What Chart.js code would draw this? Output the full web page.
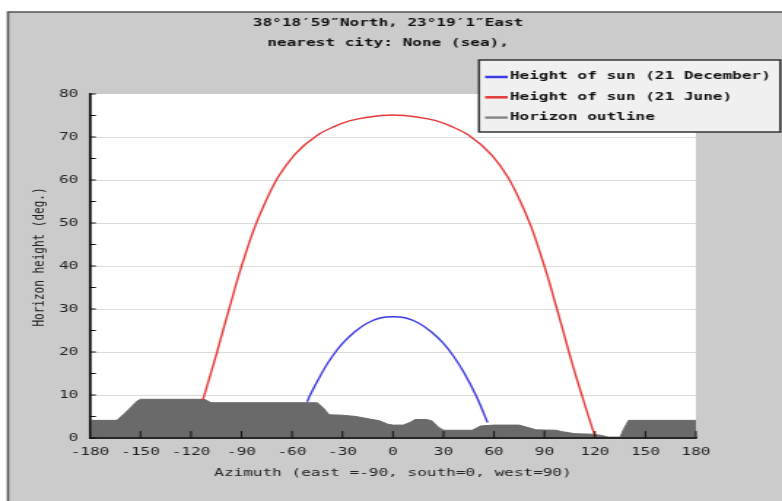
<!DOCTYPE html>
<html><head><meta charset="utf-8">
<script src="https://cdn.jsdelivr.net/npm/chart.js@4.4.1/dist/chart.umd.min.js"></script>
<style>
html,body{margin:0;padding:0;background:#fff;overflow:hidden;width:782px;height:501px}
#wrap{position:absolute;left:0;top:0;width:536px;height:501px;transform:scaleX(1.459);transform-origin:0 0}
</style></head><body>
<div id="wrap"><canvas id="c"></canvas></div>
<script>
const titleLines = ['38°18′59″North, 23°19′1″East', 'nearest city: None (sea),'];
const xAxisTitle = 'Azimuth (east =-90, south=0, west=90)';
const yAxisTitle = 'Horizon height (deg.)';
const seriesLabels = ['Height of sun (21 December)', 'Height of sun (21 June)', 'Horizon outline'];
const xTicks = [-180, -150, -120, -90, -60, -30, 0, 30, 60, 90, 120, 150, 180];
const yTicks = [0, 10, 20, 30, 40, 50, 60, 70, 80];

const decAzimuth = [-51, -49.7, -42.2, -36.2, -29.7, -22.7, -15.4, -7.7, 0, 7.7, 15.4, 22.7, 29.7, 36.2, 42.2, 49.7, 53.1, 56.2];
const decHeight  = [8.4, 9.6, 15.2, 18.9, 22.1, 24.7, 26.7, 27.9, 28.2, 27.9, 26.7, 24.7, 22.1, 18.9, 15.2, 9.6, 6.5, 3.6];

const junAzimuth = [-113, -108.8, -104.5, -100.5, -96.3, -92, -87.3, -82.1, -75.8, -68.5, -58.7, -45, -35, -25.4, -15, 0, 15, 25.4, 35, 45, 58.7, 68.5, 75.8, 82.1, 87.3, 92, 96.3, 100.5, 104.5, 108.8, 114.5, 120];
const junHeight  = [8.8, 14.3, 20.0, 25.7, 31.5, 37.4, 43.2, 49.1, 54.9, 60.5, 65.8, 70.4, 72.4, 73.8, 74.6, 75.1, 74.6, 73.8, 72.4, 70.4, 65.8, 60.5, 54.9, 49.1, 43.2, 37.4, 31.5, 25.7, 20.0, 14.3, 7.0, 0.4];

const horizonAzimuth = [-180, -164, -160, -156, -152, -150, -112, -108, -45, -41, -38, -30, -22, -15, -8, -3, 0, 6, 10, 13, 20, 23, 27, 30, 47, 52, 60, 75, 85, 97, 100, 108, 118, 124, 128, 135, 137, 140, 180];
const horizonHeight  = [4.1, 4.1, 5.5, 7.0, 8.6, 9.0, 9.0, 8.2, 8.2, 6.8, 5.4, 5.3, 5.0, 4.5, 4.0, 3.2, 3.0, 3.0, 3.6, 4.3, 4.3, 4.0, 2.5, 1.8, 1.8, 2.8, 3.0, 3.0, 1.9, 1.8, 1.5, 1.0, 0.9, 0.6, 0.2, 0.2, 2.0, 4.1, 4.1];

const seriesColors = ['#3b3be2', '#e53838', '#6a6a6a'];
const legendLineColors = ['#3b3be2', '#e53838', '#888888'];

const toPoints = (xs, ys) => xs.map((x, i) => ({x: x, y: ys[i]}));
const FONT = 'DejaVu Sans Mono';

const decor = {
  id: 'decor',
  beforeDraw(chart) {
    const {ctx, width, height, chartArea: a} = chart;
    ctx.save();
    ctx.fillStyle = '#ffffff'; ctx.fillRect(0, 0, width, height);
    ctx.fillStyle = '#cbcbcb'; ctx.fillRect(5.5, 12, width, height);
    ctx.strokeStyle = '#555'; ctx.lineWidth = 1.6;
    ctx.beginPath(); ctx.moveTo(5.5, height + 5); ctx.lineTo(5.5, 12); ctx.lineTo(width + 5, 12); ctx.stroke();
    ctx.fillStyle = '#ffffff'; ctx.fillRect(a.left, a.top, a.right - a.left, a.bottom - a.top);
    ctx.restore();
  },
  afterDatasetsDraw(chart) {
    const {ctx, chartArea: a, scales: {x, y}} = chart;
    ctx.save();
    ctx.strokeStyle = '#111'; ctx.lineWidth = 1;
    ctx.beginPath();
    xTicks.forEach(v => { const px = x.getPixelForValue(v); ctx.moveTo(px, a.bottom); ctx.lineTo(px, a.bottom - 7); });
    for (let v = 0; v <= 80; v += 5) { const py = y.getPixelForValue(v); ctx.moveTo(a.left, py); ctx.lineTo(a.left + 4, py); }
    ctx.stroke();
    ctx.lineWidth = 1.5;
    ctx.beginPath(); ctx.moveTo(a.left, a.top); ctx.lineTo(a.left, a.bottom); ctx.lineTo(a.right, a.bottom); ctx.stroke();
    ctx.restore();
  },
  afterDraw(chart) {
    const {ctx, chartArea: a} = chart;
    ctx.save();
    ctx.fillStyle = '#111';
    ctx.textAlign = 'center'; ctx.textBaseline = 'middle';
    ctx.font = 'bold 11px "' + FONT + '"';
    ctx.fillText(titleLines[0], 266, 23);
    ctx.fillText(titleLines[1], 266, 43);
    ctx.font = '11px "' + FONT + '"';
    ctx.fillStyle = '#222';
    ctx.fillText(xAxisTitle, (a.left + a.right) / 2, 473);
    ctx.save(); ctx.translate(27.4, 257); ctx.rotate(-Math.PI / 2); ctx.fillText(yAxisTitle, 0, 0); ctx.restore();
    // legend
    ctx.fillStyle = '#f0f0f0'; ctx.fillRect(328.3, 60, 206.5, 72);
    ctx.strokeStyle = '#333'; ctx.lineWidth = 1.5; ctx.strokeRect(328.3, 60, 206.5, 72);
    ctx.font = 'bold 11px "' + FONT + '"';
    ctx.textAlign = 'left';
    chart.data.datasets.forEach((ds, i) => {
      const yy = 77 + i * 20.3;
      ctx.strokeStyle = legendLineColors[i]; ctx.lineWidth = 2.5;
      ctx.beginPath(); ctx.moveTo(332.5, yy); ctx.lineTo(348, yy); ctx.stroke();
      ctx.fillStyle = '#111';
      ctx.fillText(ds.label, 349.5, yy - 0.5);
    });
    ctx.restore();
  }
};

new Chart(document.getElementById('c'), {
  type: 'scatter',
  data: {
    datasets: [
      {label: seriesLabels[0], data: toPoints(decAzimuth, decHeight), showLine: true, borderColor: seriesColors[0], backgroundColor: seriesColors[0], borderWidth: 1.4, pointRadius: 0, fill: false, order: 1, cubicInterpolationMode: 'monotone'},
      {label: seriesLabels[1], data: toPoints(junAzimuth, junHeight), showLine: true, borderColor: seriesColors[1], backgroundColor: seriesColors[1], borderWidth: 1.4, pointRadius: 0, fill: false, order: 2, cubicInterpolationMode: 'monotone'},
      {label: seriesLabels[2], data: toPoints(horizonAzimuth, horizonHeight), showLine: true, borderColor: seriesColors[2], backgroundColor: seriesColors[2], borderWidth: 1, pointRadius: 0, fill: 'origin', order: 3}
    ]
  },
  options: {
    responsive: true, maintainAspectRatio: false, animation: false, events: [],
    layout: {padding: {left: 0, top: 94, right: 59, bottom: 0}},
    plugins: {legend: {display: false}, title: {display: false}, tooltip: {enabled: false}},
    scales: {
      x: {
        type: 'linear', min: -180, max: 180,
        afterBuildTicks: s => { s.ticks = xTicks.map(v => ({value: v})); },
        afterFit: s => { s.height = 63; },
        grid: {display: false, drawTicks: false},
        border: {display: true, color: '#111', width: 1.5},
        ticks: {padding: 8, color: '#222', font: {family: FONT, size: 11}, maxRotation: 0, autoSkip: false}
      },
      y: {
        type: 'linear', min: 0, max: 80,
        afterBuildTicks: s => { s.ticks = yTicks.map(v => ({value: v})); },
        afterFit: s => { s.width = 61.7; },
        grid: {color: c => (c.tick && c.tick.value > 0 && c.tick.value < 80) ? '#dcdcdc' : 'rgba(0,0,0,0)', drawTicks: false, lineWidth: 1},
        border: {display: true, color: '#111', width: 1.5},
        ticks: {padding: 8, color: '#222', font: {family: FONT, size: 11}, autoSkip: false}
      }
    }
  },
  plugins: [decor]
});
</script>
</body></html>
